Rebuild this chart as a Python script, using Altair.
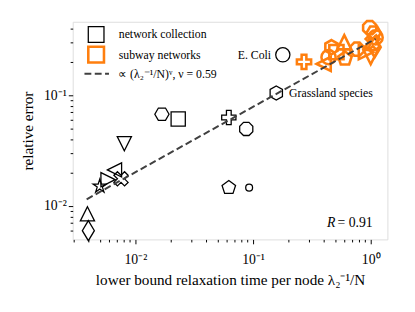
import altair as alt
import pandas as pd

# ---------------- data ----------------
GROUPS = ["network collection", "subway networks"]
FIT_LABEL = "∝ (λ₂⁻¹/N)ᵛ, ν = 0.59"

net_x = [0.0168, 0.0231, 0.0622, 0.0875, 0.00805, 0.00664, 0.00585, 0.00498,
         0.00754, 0.00391, 0.00398, 0.0622, 0.0926, 0.179, 0.1575]
net_y = [0.0675, 0.0610, 0.0630, 0.0497, 0.0366, 0.0212, 0.0173, 0.0151,
         0.0176, 0.0085, 0.0060, 0.01466, 0.01466, 0.232, 0.1048]
net_marker = ["H", "s", "P", "8", "v", "<", ">", "*",
              "X", "^", "d", "p", "small", "o", "h"]

sub_x = [0.271, 0.398, 0.438, 0.464, 0.511, 0.596, 0.604, 0.764,
         0.91, 0.98, 1.06, 1.10, 1.04, 1.08, 1.00]
sub_y = [0.200, 0.192, 0.221, 0.272, 0.245, 0.301, 0.214, 0.261,
         0.245, 0.408, 0.367, 0.333, 0.300, 0.272, 0.221]
sub_marker = ["P", "<", "o", "h", "s", "^", "p", "8",
              ">", "8", "H", "o", "X", "d", "v"]

fit_nu = 0.59
fit_amp = 0.306
fit_x = [0.00385, 1.10]
fit_y = [fit_amp * v ** fit_nu for v in fit_x]

ann_text = ["E. Coli", "Grassland species"]
ann_x = [0.179, 0.1575]
ann_y = [0.232, 0.1048]
r_name = "R"
r_value = "= 0.91"

x_major = [0.01, 0.1, 1]
x_minor = [0.003, 0.004, 0.005, 0.006, 0.007, 0.008, 0.009,
           0.02, 0.03, 0.04, 0.05, 0.06, 0.07, 0.08, 0.09,
           0.2, 0.3, 0.4, 0.5, 0.6, 0.7, 0.8, 0.9]
y_major = [0.01, 0.1]
y_minor = [0.006, 0.007, 0.008, 0.009,
           0.02, 0.03, 0.04, 0.05, 0.06, 0.07, 0.08, 0.09,
           0.2, 0.3, 0.4]

# ---------------- styles ----------------
PATHS = {
    "s": "M-1,-1H1V1H-1Z",
    "o": "circle",
    "small": "circle",
    "^": "M0,-1L1,1L-1,1Z",
    "v": "M0,1L1,-1L-1,-1Z",
    "<": "M-1,0L1,-1L1,1Z",
    ">": "M1,0L-1,-1L-1,1Z",
    "d": "M0,-1.414L0.849,0L0,1.414L-0.849,0Z",
    "p": "M0,-1L0.951,-0.309L0.588,0.809L-0.588,0.809L-0.951,-0.309Z",
    "h": "M0,-1L0.866,-0.5L0.866,0.5L0,1L-0.866,0.5L-0.866,-0.5Z",
    "H": "M1,0L0.5,0.866L-0.5,0.866L-1,0L-0.5,-0.866L0.5,-0.866Z",
    "8": "M0.383,-0.924L0.924,-0.383L0.924,0.383L0.383,0.924L-0.383,0.924L-0.924,0.383L-0.924,-0.383L-0.383,-0.924Z",
    "*": "M0,-1L0.2245,-0.309L0.951,-0.309L0.363,0.118L0.588,0.809L0,0.382L-0.588,0.809L-0.363,0.118L-0.951,-0.309L-0.2245,-0.309Z",
    "P": "M-0.333,-1L0.333,-1L0.333,-0.333L1,-0.333L1,0.333L0.333,0.333L0.333,1L-0.333,1L-0.333,0.333L-1,0.333L-1,-0.333L-0.333,-0.333Z",
    "X": "M-0.5,-1L0,-0.5L0.5,-1L1,-0.5L0.5,0L1,0.5L0.5,1L0,0.5L-0.5,1L-1,0.5L-0.5,0L-1,-0.5Z",
}
MS = 210
SIZE = {k: (49 if k == "small" else MS) for k in PATHS}
COLORS = ["black", "#ff7f0e"]
WIDTHS = [1.3, 2.6]
FIT_COLOR = "#404040"
FONT = "Liberation Serif"

rows = []
for xv, yv, m in zip(net_x, net_y, net_marker):
    rows.append(dict(x=xv, y=yv, marker=m, series=GROUPS[0]))
for xv, yv, m in zip(sub_x, sub_y, sub_marker):
    rows.append(dict(x=xv, y=yv, marker=m, series=GROUPS[1]))
pts = pd.DataFrame(rows)
pts["size"] = pts["marker"].map(SIZE)

fit_df = pd.DataFrame({"x": fit_x, "y": fit_y, "fit": FIT_LABEL})
ann_df = pd.DataFrame({"x": ann_x, "y": ann_y, "text": ann_text})

xscale = alt.Scale(type="log", domain=[0.00293, 1.386], nice=False)
yscale = alt.Scale(type="log", domain=[0.00500, 0.461], nice=False)


def ticks_axis(major, minor, title, lab_expr, **kw):
    test = "indexof(" + str(major) + ", datum.value) >= 0"
    return alt.Axis(
        values=sorted(major + minor), title=title, labelExpr=lab_expr,
        tickSize={"condition": {"test": test, "value": 4.5}, "value": 2.6},
        domain=False, grid=False, tickColor="black", tickWidth=1,
        labelFont=FONT, labelFontSize=14, labelColor="black",
        titleFont=FONT, titleFontSize=15.5, titleFontWeight="normal",
        titleColor="black", labelOverlap=False, labelFlush=False, labelBound=False,
        **kw)


xaxis = ticks_axis(x_major, x_minor, "lower bound relaxation time per node λ₂⁻¹/N",
                   "datum.value == 0.01 ? '10⁻²' : datum.value == 0.1 ? '10⁻¹' : datum.value == 1 ? '10⁰' : ''",
                   labelPadding=9, titlePadding=7)
yaxis = ticks_axis(y_major, y_minor, "relative error",
                   "datum.value == 0.01 ? '10⁻²' : datum.value == 0.1 ? '10⁻¹' : ''",
                   labelPadding=2, titlePadding=8)

group_legend = alt.Legend(
    orient="none", legendX=14.4, legendY=4, title=None, padding=0,
    symbolSize=256, symbolType="square", symbolFillColor="white",
    labelFont=FONT, labelFontSize=12, labelColor="black",
    labelOffset=13.6, rowPadding=-4, labelLimit=300,
)
fit_legend = alt.Legend(
    orient="none", legendX=11, legendY=39.5, title=None, padding=0,
    symbolSize=625, symbolType="stroke", symbolStrokeColor=FIT_COLOR,
    symbolStrokeWidth=2, labelFont=FONT, labelFontSize=12, labelColor="black",
    labelOffset=8.3, labelLimit=300,
)

points = alt.Chart(pts).mark_point(filled=False, opacity=1).encode(
    x=alt.X("x:Q", scale=xscale, axis=xaxis),
    y=alt.Y("y:Q", scale=yscale, axis=yaxis),
    shape=alt.Shape("marker:N", scale=alt.Scale(domain=list(PATHS.keys()),
                                                range=list(PATHS.values())), legend=None),
    size=alt.Size("size:Q", scale=None, legend=None),
    stroke=alt.Stroke("series:O", scale=alt.Scale(domain=GROUPS, range=COLORS),
                      legend=group_legend),
    strokeWidth=alt.StrokeWidth("series:O", scale=alt.Scale(domain=GROUPS, range=WIDTHS),
                                legend=group_legend),
)

line = alt.Chart(fit_df).mark_line(strokeWidth=2, color=FIT_COLOR).encode(
    x=alt.X("x:Q", scale=xscale, axis=xaxis),
    y=alt.Y("y:Q", scale=yscale, axis=yaxis),
    strokeDash=alt.StrokeDash("fit:N", scale=alt.Scale(domain=[FIT_LABEL], range=[[7, 3.5]]),
                              legend=fit_legend),
)

ann_left = alt.Chart(ann_df.iloc[[0]]).mark_text(
    font=FONT, fontSize=12, align="right", baseline="middle", dx=-12, color="black"
).encode(x=alt.X("x:Q", scale=xscale), y=alt.Y("y:Q", scale=yscale), text="text:N")

ann_right = alt.Chart(ann_df.iloc[[1]]).mark_text(
    font=FONT, fontSize=12, align="left", baseline="middle", dx=13, color="black"
).encode(x=alt.X("x:Q", scale=xscale), y=alt.Y("y:Q", scale=yscale), text="text:N")

rval = alt.Chart(pd.DataFrame({"t": [r_value]})).mark_text(
    font=FONT, fontSize=14, align="right", baseline="middle", color="black"
).encode(x=alt.value(306), y=alt.value(205), text="t:N")

rname = alt.Chart(pd.DataFrame({"t": [r_name]})).mark_text(
    font=FONT, fontSize=14, fontStyle="italic", align="right", baseline="middle", color="black"
).encode(x=alt.value(268), y=alt.value(205), text="t:N")

chart = alt.layer(points, line, ann_left, ann_right, rval, rname).properties(
    width=321, height=222,
    autosize=alt.AutoSizeParams(type="none"),
    padding={"left": 66, "top": 11, "right": 20, "bottom": 71},
).configure_view(stroke="black", strokeWidth=1).configure(background="white")

chart.save("out.html", embed_options={"renderer": "svg", "actions": False})
